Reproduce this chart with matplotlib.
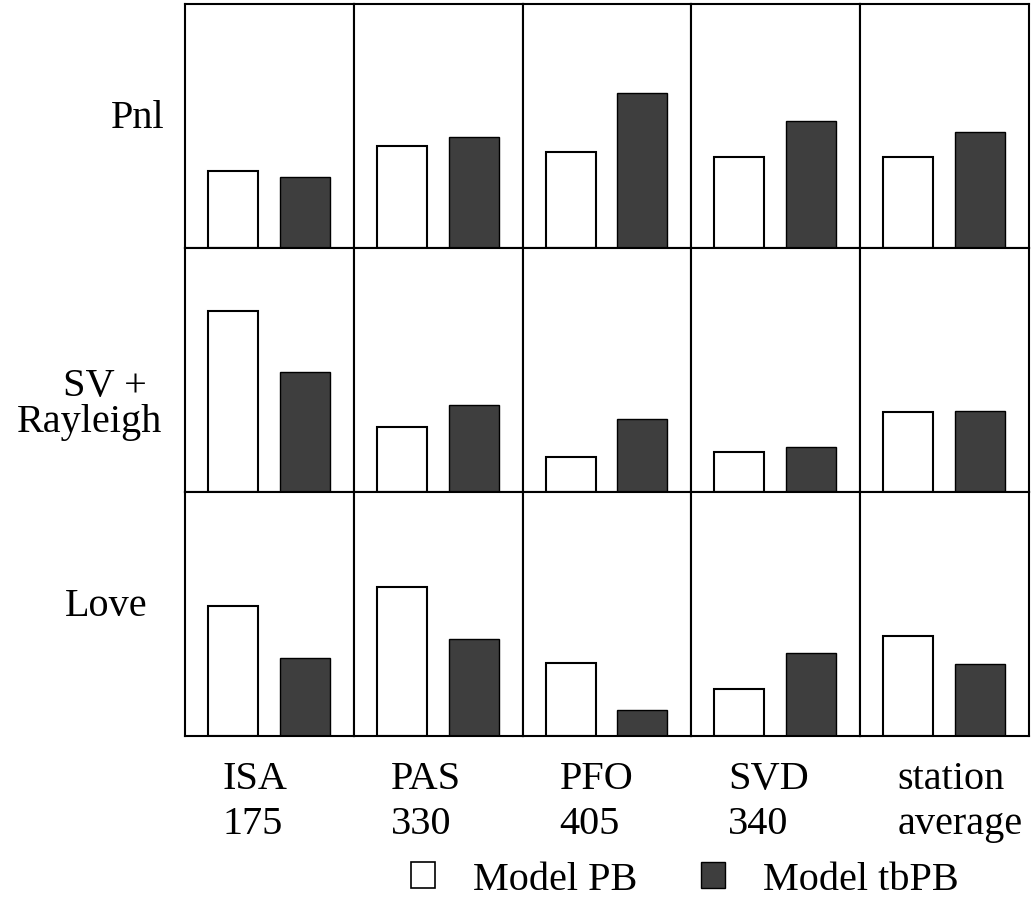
import matplotlib
matplotlib.use("Agg")
import matplotlib.pyplot as plt
from matplotlib.patches import Patch

plt.rcParams["font.family"] = ["Liberation Serif", "DejaVu Serif"]

# Stations (name, epicentral distance) and wave groups
stations = ["ISA", "PAS", "PFO", "SVD", "station"]
station_sub = ["175", "330", "405", "340", "average"]
phases = ["Pnl", "SV + Rayleigh", "Love"]

# Relative misfit per phase (rows) and station (columns)
model_pb = [
    [0.316, 0.416, 0.394, 0.375, 0.374],
    [0.743, 0.268, 0.145, 0.163, 0.329],
    [0.534, 0.609, 0.299, 0.191, 0.410],
]
model_tbpb = [
    [0.293, 0.456, 0.635, 0.521, 0.475],
    [0.490, 0.356, 0.301, 0.186, 0.331],
    [0.318, 0.398, 0.108, 0.340, 0.295],
]

W, H = 1034, 904
fig = plt.figure(figsize=(W / 100, H / 100), dpi=100)
gs = fig.add_gridspec(
    3, 5,
    left=185 / W, right=1029 / W, top=1 - 5 / H, bottom=1 - 737 / H,
    wspace=0, hspace=0,
)

dark = "#3e3e3e"
x_pb, x_tb, bw = 0.284, 0.710, 0.296

for r in range(3):
    for c in range(5):
        ax = fig.add_subplot(gs[r, c])
        ax.bar([x_pb], [model_pb[r][c]], width=bw, facecolor="white",
               edgecolor="black", linewidth=1.5)
        ax.bar([x_tb], [model_tbpb[r][c]], width=bw, facecolor=dark,
               edgecolor="black", linewidth=1.0)
        ax.set_xlim(0, 1)
        ax.set_ylim(0, 1)
        ax.set_xticks([])
        ax.set_yticks([])
        for s in ax.spines.values():
            s.set_linewidth(1.5)
            s.set_color("black")

fs = 29

def fx(px):
    return px / W

def fy(py):
    return 1 - py / H

# Row labels
fig.text(fx(165), fy(128), "Pnl", ha="right", va="baseline", fontsize=fs)
fig.text(fx(147), fy(396), "SV +", ha="right", va="baseline", fontsize=fs)
fig.text(fx(162), fy(432), "Rayleigh", ha="right", va="baseline", fontsize=fs)
fig.text(fx(147), fy(616), "Love", ha="right", va="baseline", fontsize=fs)

# Column labels
col_w = (1029 - 185) / 5
for i, (a, b) in enumerate(zip(stations, station_sub)):
    x0 = 185 + i * col_w + 37
    fig.text(fx(x0), fy(789), a, ha="left", va="baseline", fontsize=fs)
    fig.text(fx(x0), fy(834), b, ha="left", va="baseline", fontsize=fs)

handles = [
    Patch(facecolor="white", edgecolor="black", linewidth=1.2),
    Patch(facecolor=dark, edgecolor="black", linewidth=1.0),
]
fig.legend(
    handles, ["Model PB", "Model tbPB"],
    loc="center", bbox_to_anchor=(fx(685), fy(881)), ncol=2, frameon=False,
    fontsize=fs, handlelength=0.6, handleheight=0.62, handletextpad=0.94,
    columnspacing=1.59, borderpad=0, borderaxespad=0,
)

fig.savefig("out.png", dpi=100, facecolor="white")
